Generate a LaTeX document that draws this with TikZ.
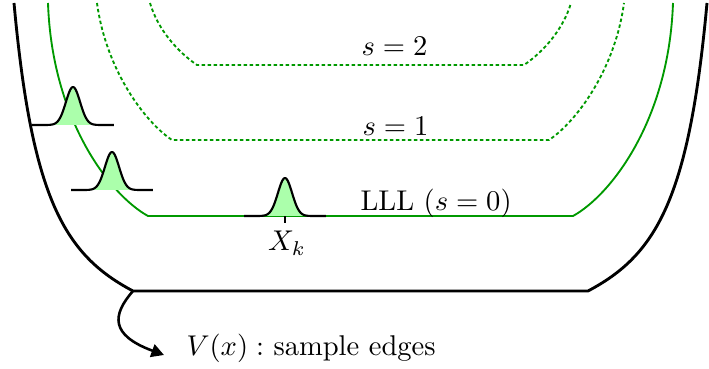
\documentclass[tikz,border=0pt]{standalone}
\usetikzlibrary{arrows.meta}
\definecolor{lvlgreen}{RGB}{0,153,0}
\tikzset{
  outerline/.style={line width=1pt, black},
  lvlline/.style={line width=0.65pt, lvlgreen},
  lvldash/.style={line width=0.65pt, lvlgreen, dash pattern=on 1.2pt off 0.9pt},
  bumpline/.style={line width=0.75pt, black},
  bumpfill/.style={fill=green!33},
  lbl/.style={inner sep=0pt, anchor=base west, font=\normalsize},
  arrowline/.style={line width=0.9pt, black, -{Triangle[length=4.4pt,width=4.6pt]}},
  bump/.pic={
    \fill[bumpfill] plot[domain=-41:41, samples=80] (\x,{-38*exp(-\x*\x/100)}) -- cycle;
    \draw[bumpline] plot[domain=-41:41, samples=80] (\x,{-38*exp(-\x*\x/100)});
  }
}
\begin{document}
\begin{tikzpicture}[x=0.35pt, y=-0.35pt]
\useasboundingbox (0,0) rectangle (709,369);
% outer black boundary
\draw[outerline] (14,3) .. controls (32,200) and (65,255) .. (133,291)
   -- (588,291) .. controls (656,255) and (689,200) .. (707,3);
% LLL level (s=0)
\draw[lvlline] (48,3) .. controls (52,120) and (110,195) .. (148,216)
   -- (573,216) .. controls (611,195) and (669,120) .. (673,3);
% s=1 level
\draw[lvldash] (97,3) .. controls (106,70) and (145,122) .. (172,140)
   -- (549,140) .. controls (576,122) and (615,70) .. (624,3);
% s=2 level
\draw[lvldash] (150,3) .. controls (158,30) and (178,52) .. (197,65)
   -- (524,65) .. controls (543,52) and (563,30) .. (571,3);
% bumps
\pic at (73,125) {bump};
\pic at (112,190) {bump};
\pic at (285,216) {bump};
\coordinate (xk) at (285,216);
\draw[bumpline] (xk) -- ++(0,7);
% labels
\node[lbl] (s2) at (361,56) {$s=2$};
\node[lbl] (s1) at (362,135) {$s=1$};
\node[lbl] (lll) at (360,210) {LLL ($s=0$)};
\node[inner sep=0pt, anchor=base] (xklabel) at (287,251) {$X_k$};
\node[lbl] (vlabel) at (186,355) {$V(x):$ sample edges};
% arrow
\coordinate (corner) at (133,291);
\coordinate (arrowtip) at (164,355);
\draw[arrowline] (corner) .. controls (112,315) and (110,335) .. (arrowtip);
\end{tikzpicture}
\end{document}
